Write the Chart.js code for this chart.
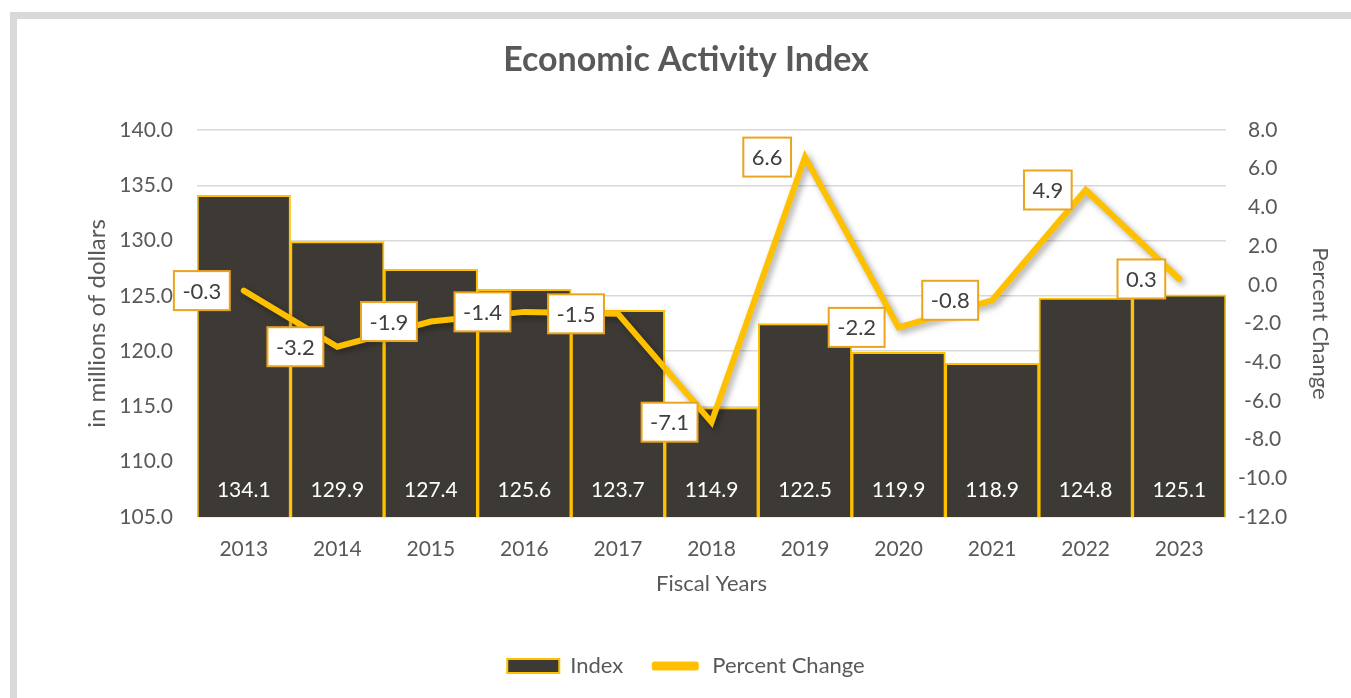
<!DOCTYPE html>
<html>
<head>
<meta charset="utf-8">
<title>Economic Activity Index</title>
<script src="https://cdn.jsdelivr.net/npm/chart.js@4/dist/chart.umd.min.js"></script>
<style>
  html, body { margin: 0; padding: 0; background: #fff; overflow: hidden; }
  #frame {
    position: absolute; left: 10px; top: 12px;
    width: 1338px; height: 700px;
    border: 7px solid #d9d9d9;
    background: #fff;
  }
  #chart { display: block; }
</style>
</head>
<body>
<div id="frame"><canvas id="chart" width="1338" height="700"></canvas></div>
<script>
// fiscal years and the two series
const years = ['2013', '2014', '2015', '2016', '2017', '2018', '2019', '2020', '2021', '2022', '2023'];
const indexValues = [134.1, 129.9, 127.4, 125.6, 123.7, 114.9, 122.5, 119.9, 118.9, 124.8, 125.1];
const percentChange = [-0.3, -3.2, -1.9, -1.4, -1.5, -7.1, 6.6, -2.2, -0.8, 4.9, 0.3];

const GREY_TEXT = '#595959';
const GOLD = '#FFC000';
const BAR_FILL = '#3D3A35';
const FONT = 'Lato';

// soft drop shadow under the percent change line
const lineShadow = {
  id: 'lineShadow',
  beforeDatasetDraw(chart, args) {
    if (args.meta.type !== 'line') return;
    const ctx = chart.ctx;
    ctx.save();
    ctx.shadowColor = 'rgba(0,0,0,0.35)';
    ctx.shadowBlur = 6;
    ctx.shadowOffsetX = 3;
    ctx.shadowOffsetY = 3;
  },
  afterDatasetDraw(chart, args) {
    if (args.meta.type !== 'line') return;
    chart.ctx.restore();
  }
};

// value labels: white text at the foot of each bar, boxed labels left of each line point
const valueLabels = {
  id: 'valueLabels',
  afterDatasetsDraw(chart) {
    const ctx = chart.ctx;
    const bottom = chart.chartArea.bottom;
    ctx.save();
    ctx.textBaseline = 'middle';
    ctx.textAlign = 'center';

    ctx.font = '21px ' + FONT;
    const barMeta = chart.getDatasetMeta(0);
    barMeta.data.forEach((bar, i) => {
      ctx.fillStyle = '#ffffff';
      ctx.fillText(indexValues[i].toFixed(1), bar.x, bottom - 27);
    });

    ctx.font = '22px ' + FONT;
    const lineMeta = chart.getDatasetMeta(1);
    lineMeta.data.forEach((pt, i) => {
      const txt = percentChange[i].toFixed(1);
      const w = ctx.measureText(txt).width + 17;
      const h = 39;
      const x = pt.x - 14 - w;
      const y = pt.y - h / 2;
      ctx.fillStyle = '#ffffff';
      ctx.fillRect(x, y, w, h);
      ctx.lineWidth = 2;
      ctx.strokeStyle = '#EBA420';
      ctx.strokeRect(x, y, w, h);
      ctx.fillStyle = '#404040';
      ctx.fillText(txt, x + w / 2, pt.y + 1);
    });
    ctx.restore();
  }
};

new Chart(document.getElementById('chart'), {
  type: 'bar',
  data: {
    labels: years,
    datasets: [
      {
        type: 'bar',
        label: 'Index',
        data: indexValues,
        yAxisID: 'y',
        backgroundColor: BAR_FILL,
        borderColor: GOLD,
        borderWidth: 2,
        barPercentage: 1,
        categoryPercentage: 1,
        order: 2
      },
      {
        type: 'line',
        label: 'Percent Change',
        data: percentChange,
        yAxisID: 'y1',
        borderColor: GOLD,
        backgroundColor: GOLD,
        borderWidth: 6,
        borderJoinStyle: 'miter',
        borderCapStyle: 'round',
        pointRadius: 0,
        tension: 0,
        order: 1
      }
    ]
  },
  options: {
    responsive: false,
    animation: false,
    layout: { padding: { left: 0, right: 0, top: 0, bottom: 32 } },
    plugins: {
      title: {
        display: true,
        text: 'Economic Activity Index',
        color: GREY_TEXT,
        font: { family: FONT, size: 34, weight: 'bold' },
        padding: { top: 20.6, bottom: 49.6 }
      },
      legend: {
        position: 'bottom',
        labels: {
          color: GREY_TEXT,
          font: { family: FONT, size: 22 },
          boxWidth: 52,
          boxHeight: 14,
          padding: 26,
          useBorderRadius: true,
          generateLabels() {
            return [
              { text: 'Index', fillStyle: BAR_FILL, strokeStyle: GOLD, lineWidth: 2, borderRadius: 0, fontColor: GREY_TEXT, datasetIndex: 0 },
              { text: 'Percent Change', fillStyle: GOLD, strokeStyle: '#ffffff', lineWidth: 5, borderRadius: 5, fontColor: GREY_TEXT, datasetIndex: 1 }
            ];
          }
        }
      },
      tooltip: { enabled: false }
    },
    scales: {
      x: {
        grid: { display: false, drawTicks: false },
        border: { display: false },
        ticks: { color: GREY_TEXT, font: { family: FONT, size: 21 }, padding: 20 },
        title: {
          display: true,
          text: 'Fiscal Years',
          color: GREY_TEXT,
          font: { family: FONT, size: 22 },
          padding: { top: 0, bottom: 31.8 }
        },
        afterFit(scale) { scale.height = 112; }
      },
      y: {
        position: 'left',
        min: 105,
        max: 140,
        ticks: {
          stepSize: 5,
          color: GREY_TEXT,
          font: { family: FONT, size: 21 },
          padding: 24,
          callback: v => v.toFixed(1)
        },
        grid: { color: '#d9d9d9', lineWidth: 1.5, drawTicks: false },
        border: { display: false },
        title: {
          display: true,
          text: 'in millions of dollars',
          color: GREY_TEXT,
          font: { family: FONT, size: 24 },
          padding: { top: 65.6, bottom: 0 }
        },
        afterFit(scale) { scale.width = 180; }
      },
      y1: {
        position: 'right',
        min: -12,
        max: 8,
        ticks: {
          stepSize: 2,
          color: GREY_TEXT,
          font: { family: FONT, size: 21 },
          padding: 12,
          crossAlign: 'center',
          callback: v => v.toFixed(1)
        },
        grid: { display: false, drawTicks: false },
        border: { display: false },
        title: {
          display: true,
          text: 'Percent Change',
          color: GREY_TEXT,
          font: { family: FONT, size: 22 },
          padding: { top: 21.8, bottom: 0 }
        },
        afterFit(scale) { scale.width = 129; }
      }
    }
  },
  plugins: [lineShadow, valueLabels]
});
</script>
</body>
</html>
